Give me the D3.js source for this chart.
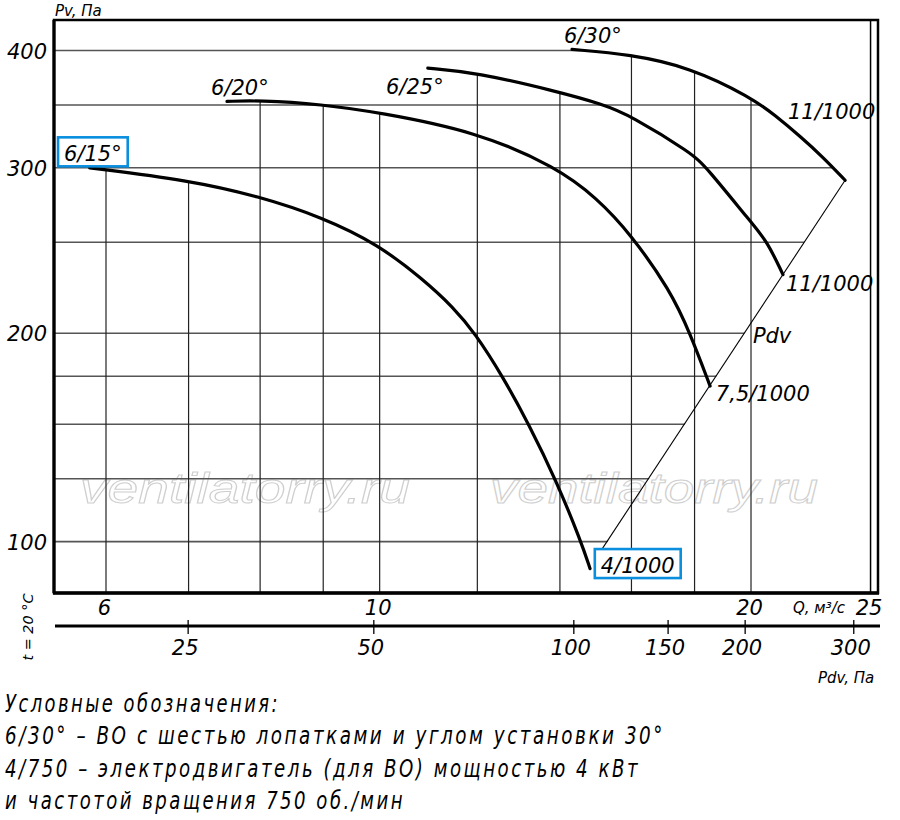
<!DOCTYPE html>
<html>
<head>
<meta charset="utf-8">
<script src="https://cdn.jsdelivr.net/npm/d3@7"></script>
<style>
  body { margin: 0; background: #fff; }
  svg text { font-family: "DejaVu Sans", sans-serif; font-style: italic; fill: #000; }
  svg text.legend { font-family: "DejaVu Sans Condensed", "DejaVu Sans", sans-serif; font-stretch: condensed; letter-spacing: 3px; }
</style>
</head>
<body>
<script>
// grid / tick values (Q in m3/s, P in Pa)
const qGrid = [6, 7, 8, 9, 10, 12, 14, 16, 18, 20]
const qTicks = [6, 10, 20, 25]
const pGrid = [400, 350, 300, 250, 200, 180, 160, 140, 120]
const pTicks = [400, 300, 200, 120]
const pTickLabels = ["400", "300", "200", "100"]   // the bottom label sits on the 120 line in the original
const pdvTicks = [25, 50, 105.5, 150, 200, 300]
const pdvTickLabels = ["25", "50", "100", "150", "200", "300"]
const kDyn = 0.512   // Pdv / Q^2
const qMin = 5.445, qMax = 25.35
const pMin = 105.8, pMax = 431

// fan curves
const q15 = [5.82, 7.0, 7.98, 8.98, 9.97, 10.84, 11.47, 11.95, 12.59, 13.21, 13.90, 14.56, 14.81]
const p15 = [300, 291, 279.8, 265.8, 248.7, 228.3, 213.2, 200, 179.6, 160, 139.5, 120.1, 112.3]
const q20 = [7.52, 7.98, 8.98, 9.97, 11.97, 13.92, 15.0, 15.96, 17.2, 17.85, 18.53]
const p20 = [353, 354, 350.5, 343.7, 328, 300.4, 278.5, 255.5, 222.2, 200, 175.7]
const q25 = [10.94, 11.97, 13.92, 15.17, 15.96, 17.91, 18.4, 20.0, 20.61, 21.23]
const p25 = [383, 379, 361.8, 350.5, 341.2, 310.9, 300.4, 262.5, 250.6, 230.9]
const q30 = [14.32, 15.96, 17.85, 20.0, 20.92, 21.92, 22.88, 23.84]
const p30 = [401, 396.2, 383.8, 356.6, 341.2, 324.1, 307.9, 291]

// dynamic pressure line
const pdvQ = [15.0, 23.84]
const pdvP = [115.6, 291]

const legendLines = [
  "Условные обозначения:",
  "6/30° – ВО с шестью лопатками и углом установки 30°",
  "4/750 – электродвигатель (для ВО) мощностью 4 кВт",
  "и частотой вращения 750 об./мин"
]

let mL = 54, mR = 878, mT = 20, mB = 593

let svg = d3.select("body")
    .append("svg")
    .attr("width", 900)
    .attr("height", 820)

let x = d3.scaleLog().domain([qMin, qMax]).range([mL, mR])
let y = d3.scaleLog().domain([pMin, pMax]).range([mB, mT])
let xPdv = d3.scaleLog().domain([kDyn * qMin * qMin, kDyn * qMax * qMax]).range([mL, mR])

let zip = (qs, ps) => qs.map((q, i) => [q, ps[i]])
let curves = [zip(q15, p15), zip(q20, p20), zip(q25, p25), zip(q30, p30)]

let line = d3.line()
    .x(d => x(d[0]))
    .y(d => y(d[1]))
    .curve(d3.curveBasis)

let area = d3.area()
    .x(d => x(d[0]))
    .y0(mB)
    .y1(d => y(d[1]))
    .curve(d3.curveBasis)

// clip paths: verticals stop at the upper envelope, horizontals at the outer boundary
let defs = svg.append("defs")
defs.append("clipPath").attr("id", "vclip")
    .selectAll("path").data(curves).enter().append("path")
    .attr("d", area)

let c30 = curves[3]
let outer = "M" + mL + "," + mT + "H" + x(c30[0][0]) +
    line(c30).replace(/^M/, "L") +
    "L" + x(Math.sqrt(pMin / kDyn)) + "," + mB +
    "H" + mL + "Z"
defs.append("clipPath").attr("id", "hclip")
    .append("path").attr("d", outer)

// watermark
svg.selectAll(".wm")
    .data([[80, 410], [490, 818]])
    .enter().append("text")
    .attr("class", "wm")
    .attr("x", d => d[0])
    .attr("y", 503)
    .attr("textLength", d => d[1] - d[0])
    .attr("lengthAdjust", "spacingAndGlyphs")
    .style("font-family", "'Liberation Sans', Arial, sans-serif")
    .style("font-size", "42px")
    .style("fill", "none")
    .style("stroke", "#cfcfcf")
    .style("stroke-width", 1)
    .text("ventilatorry.ru")

// grid
svg.append("g").attr("clip-path", "url(#hclip)")
    .selectAll("line").data(pGrid).enter().append("line")
    .attr("x1", mL).attr("x2", mR)
    .attr("y1", d => y(d)).attr("y2", d => y(d))
    .attr("stroke", "#555")
    .attr("stroke-width", 1.6)

svg.append("g").attr("clip-path", "url(#vclip)")
    .selectAll("line").data(qGrid).enter().append("line")
    .attr("x1", d => x(d)).attr("x2", d => x(d))
    .attr("y1", mT).attr("y2", mB)
    .attr("stroke", "#222")
    .attr("stroke-width", 1.2)

// Q = 25 line and frame
svg.append("line")
    .attr("x1", x(25)).attr("x2", x(25))
    .attr("y1", mT).attr("y2", mB)
    .attr("stroke", "#000").attr("stroke-width", 1.5)

svg.append("path")
    .attr("d", `M${mL},${mB}V${mT}H${mR}V${mB}Z`)
    .attr("fill", "none")
    .attr("stroke", "#000")
    .attr("stroke-width", 2.5)
svg.append("line")
    .attr("x1", mL - 1).attr("x2", mR + 1)
    .attr("y1", mB).attr("y2", mB)
    .attr("stroke", "#000").attr("stroke-width", 3.5)
svg.append("line")
    .attr("x1", mL).attr("x2", mL)
    .attr("y1", mT).attr("y2", mB)
    .attr("stroke", "#000").attr("stroke-width", 3.2)

// Pdv line
svg.append("path")
    .attr("d", d3.line().x(d => x(d[0])).y(d => y(d[1]))(zip(pdvQ, pdvP)))
    .attr("fill", "none")
    .attr("stroke", "#000")
    .attr("stroke-width", 1.1)

// fan curves
svg.selectAll(".curve")
    .data(curves)
    .enter().append("path")
    .attr("class", "curve")
    .attr("d", line)
    .attr("fill", "none")
    .attr("stroke", "#000")
    .attr("stroke-width", 3.2)
    .attr("stroke-linecap", "round")

// axes
let yAxis = svg.append("g")
    .attr("transform", `translate(${mL},0)`)
    .call(d3.axisLeft(y).tickValues(pTicks).tickFormat((d, i) => pTickLabels[i]).tickSize(0).tickPadding(7))
yAxis.select(".domain").remove()
yAxis.attr("font-family", null)
yAxis.selectAll("text").style("font-size", "21px").attr("dy", "0.36em")

let qAxis = svg.append("g")
    .attr("transform", `translate(-2,${mB})`)
    .call(d3.axisBottom(x).tickValues(qTicks).tickFormat(d3.format("d")).tickSize(0).tickPadding(7))
qAxis.select(".domain").remove()
qAxis.attr("font-family", null)
qAxis.selectAll("text").style("font-size", "21px")

svg.append("line")
    .attr("x1", 55).attr("x2", 880)
    .attr("y1", 626).attr("y2", 626)
    .attr("stroke", "#000").attr("stroke-width", 3)

let pdvAxis = svg.append("g")
    .attr("transform", "translate(0,620)")
    .call(d3.axisBottom(xPdv).tickValues(pdvTicks).tickFormat((d, i) => pdvTickLabels[i]).tickSize(14).tickPadding(6))
pdvAxis.select(".domain").remove()
pdvAxis.attr("font-family", null)
pdvAxis.selectAll("line").attr("stroke", "#000").attr("stroke-width", 1.3)
pdvAxis.selectAll("text").style("font-size", "21px").attr("dx", -3)

// axis titles
svg.append("text").attr("x", 55).attr("y", 16).style("font-size", "15px").text("Pv, Па")
svg.append("text").attr("x", 793).attr("y", 613).style("font-size", "15px").text("Q, м³/с")
svg.append("text").attr("x", 818).attr("y", 683).style("font-size", "15px").text("Pdv, Па")
svg.append("text")
    .attr("transform", "translate(33,627) rotate(-90)")
    .attr("text-anchor", "middle")
    .attr("textLength", 67)
    .attr("lengthAdjust", "spacingAndGlyphs")
    .style("font-size", "14px")
    .text("t = 20 °C")

// curve labels (anchored in data space)
let labels = [
  {t: "6/15°", q: 5.548, p: 304.8, box: true},
  {t: "6/20°", q: 7.30, p: 358.4},
  {t: "6/25°", q: 10.12, p: 359.2},
  {t: "6/30°", q: 14.11, p: 407},
  {t: "11/1000", q: 21.43, p: 337.8},
  {t: "11/1000", q: 21.35, p: 221.7},
  {t: "Pdv", q: 20.07, p: 195.2},
  {t: "7,5/1000", q: 18.73, p: 169.3},
  {t: "4/1000", q: 15.11, p: 111.1, box: true}
]

let lab = svg.selectAll(".lab").data(labels).enter().append("g").attr("class", "lab")
lab.each(function(d) {
  let g = d3.select(this)
  let t = g.append("text")
      .attr("x", x(d.q))
      .attr("y", y(d.p))
      .style("font-size", "21px")
      .text(d.t)
  if (d.box) {
    let b = t.node().getBBox()
    g.insert("rect", "text")
        .attr("x", b.x - 6).attr("y", y(d.p) - 24)
        .attr("width", b.width + 12).attr("height", 29)
        .attr("fill", "#fff")
        .attr("stroke", "#0a8fdf")
        .attr("stroke-width", 2.6)
  }
})

// legend
svg.selectAll(".legend")
    .data(legendLines)
    .enter().append("text")
    .attr("class", "legend")
    .attr("x", 5)
    .attr("y", (d, i) => 712 + i * 32.3)
    .attr("textLength", (d, i) => [275, 660, 635, 400][i])
    .attr("lengthAdjust", "spacingAndGlyphs")
    .style("font-size", "24px")
    .text(d => d)
</script>
</body>
</html>
